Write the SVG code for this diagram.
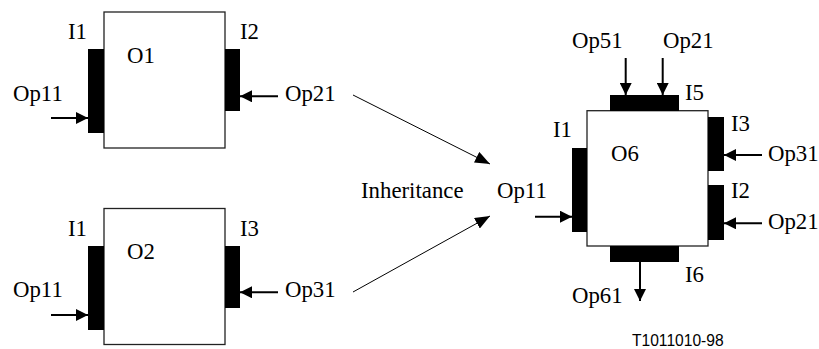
<svg xmlns="http://www.w3.org/2000/svg" width="819" height="349" viewBox="0 0 819 349">
<defs>
<style>
.box{fill:#fff;stroke:#222;stroke-width:1.3}
.bar{fill:#000}
.t{font-family:"Liberation Serif","Times New Roman",serif;font-size:22.8px;fill:#000}
.code{font-family:"Liberation Sans",Arial,sans-serif;font-size:15.6px;fill:#000}
.a{stroke:#000;stroke-width:2;fill:none;marker-end:url(#ah)}
.inh{stroke:#000;stroke-width:1;fill:none;marker-end:url(#ih)}
</style>
<marker id="ah" markerUnits="userSpaceOnUse" markerWidth="12" markerHeight="12" refX="12" refY="6" orient="auto"><path d="M0,0 L12,6 L0,12 z" fill="#000"/></marker>
<marker id="ih" markerUnits="userSpaceOnUse" markerWidth="15" markerHeight="12" refX="15" refY="6" orient="auto"><path d="M0,0 L15,6 L0,12 z" fill="#000"/></marker>
</defs>
<rect width="819" height="349" fill="#fff"/>

<g id="O1">
<rect class="box" x="104" y="12" width="121" height="136"/>
<rect class="bar" x="88" y="49" width="16" height="84"/>
<rect class="bar" x="225" y="49" width="15" height="62"/>
<text class="t" x="127" y="63">O1</text>
<text class="t" x="68" y="39">I1</text>
<text class="t" x="240" y="39">I2</text>
<text class="t" x="13" y="101">Op11</text>
<text class="t" x="285" y="101">Op21</text>
</g>

<g id="O2">
<rect class="box" x="104" y="208.5" width="121" height="136"/>
<rect class="bar" x="88" y="246" width="16" height="84"/>
<rect class="bar" x="225" y="246" width="15" height="62"/>
<text class="t" x="127" y="259">O2</text>
<text class="t" x="68" y="236">I1</text>
<text class="t" x="240" y="236">I3</text>
<text class="t" x="13" y="297">Op11</text>
<text class="t" x="285" y="297">Op31</text>
</g>

<g id="O6">
<rect class="box" x="587" y="110.7" width="121" height="135.3"/>
<rect class="bar" x="610" y="95" width="69" height="16"/>
<rect class="bar" x="572" y="148" width="15" height="84"/>
<rect class="bar" x="708" y="117" width="16" height="54"/>
<rect class="bar" x="708" y="185" width="16" height="55"/>
<rect class="bar" x="610" y="246" width="69" height="16"/>
<text class="t" x="611" y="161">O6</text>
<text class="t" x="553" y="137">I1</text>
<text class="t" x="685" y="100">I5</text>
<text class="t" x="731" y="131">I3</text>
<text class="t" x="731" y="198">I2</text>
<text class="t" x="685" y="282">I6</text>
<text class="t" x="572" y="48">Op51</text>
<text class="t" x="663" y="48">Op21</text>
<text class="t" x="768" y="161">Op31</text>
<text class="t" x="768" y="229">Op21</text>
<text class="t" x="497" y="198">Op11</text>
<text class="t" x="572" y="303">Op61</text>
</g>

<g id="labels">
<text class="t" x="361" y="198">Inheritance</text>
<text class="code" x="632" y="346">T1011010-98</text>
</g>

<g id="connectors">
<line class="a" x1="51" y1="118" x2="88" y2="118"/>
<line class="a" x1="278" y1="96.3" x2="240" y2="96.3"/>
<line class="a" x1="51" y1="315" x2="88" y2="315"/>
<line class="a" x1="278" y1="292.3" x2="240" y2="292.3"/>
<line class="inh" x1="353" y1="95" x2="490" y2="164"/>
<line class="inh" x1="353" y1="292" x2="490" y2="216"/>
<line class="a" x1="625.7" y1="58" x2="625.7" y2="95"/>
<line class="a" x1="662.7" y1="58" x2="662.7" y2="95"/>
<line class="a" x1="762" y1="155" x2="724" y2="155"/>
<line class="a" x1="762" y1="223.3" x2="724" y2="223.3"/>
<line class="a" x1="535" y1="216.7" x2="572" y2="216.7"/>
<line class="a" x1="640" y1="262" x2="640" y2="301"/>
</g>
</svg>
